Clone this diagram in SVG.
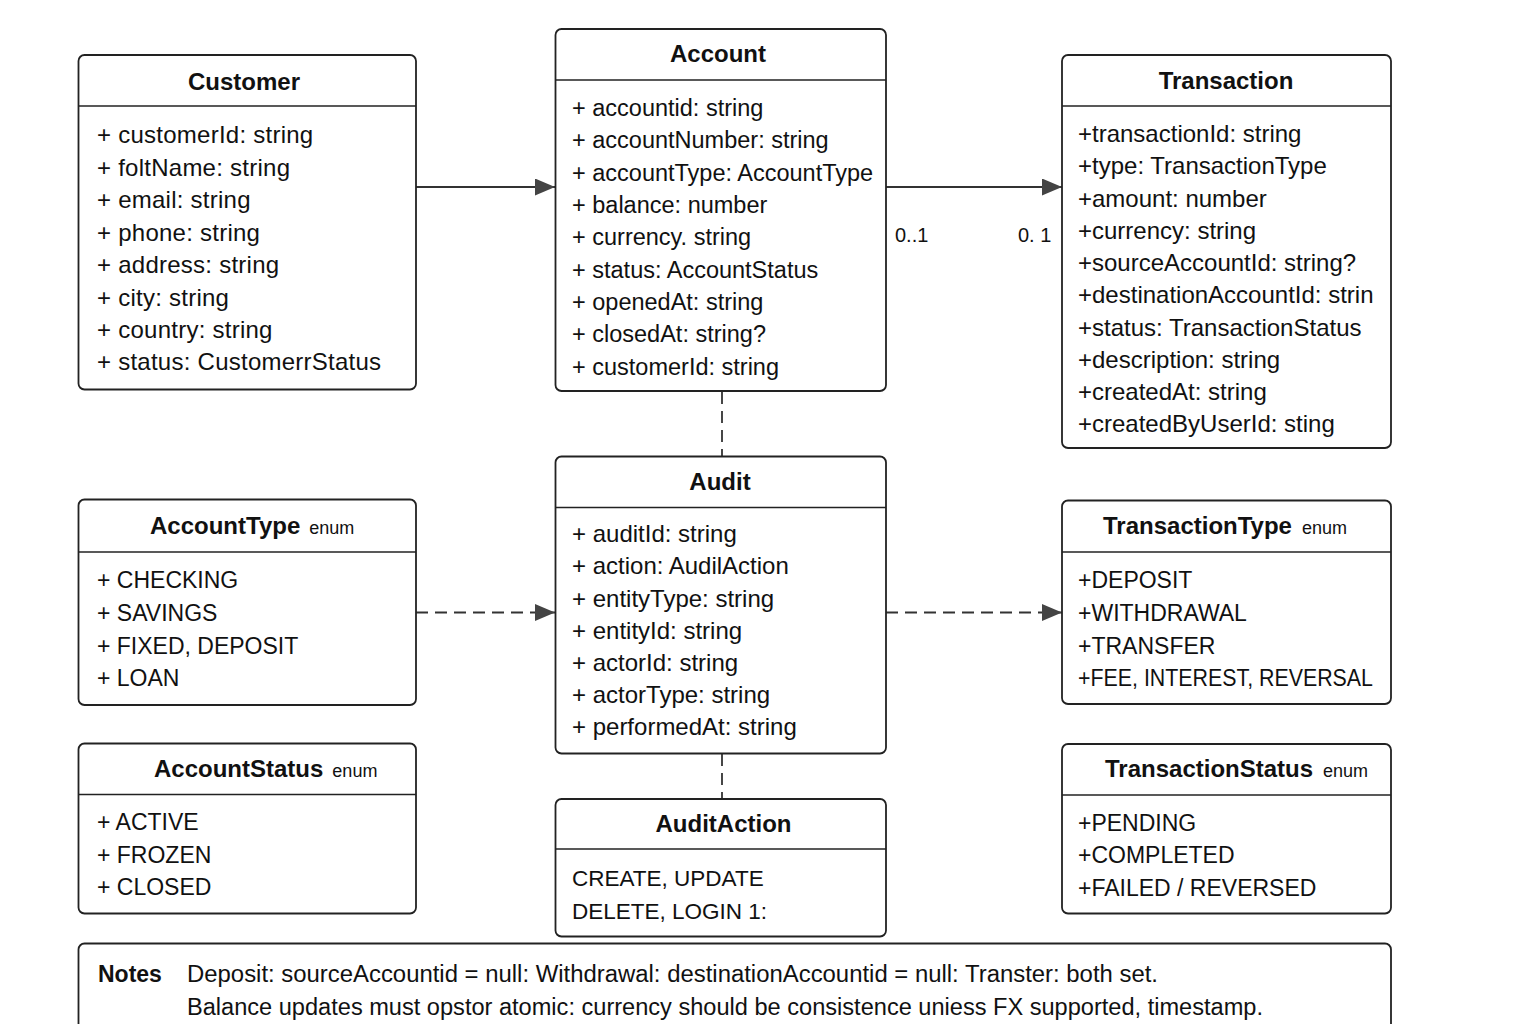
<svg xmlns="http://www.w3.org/2000/svg" width="1536" height="1024" viewBox="0 0 1536 1024">
<defs>
<style>
.box{fill:#fff;stroke:#222;stroke-width:1.8}
.div{stroke:#222;stroke-width:1.5}
.t{font-family:"Liberation Sans",Arial,sans-serif;font-weight:bold;font-size:24px;fill:#111}
.a{font-family:"Liberation Sans",Arial,sans-serif;font-size:24px;fill:#111}
.a23{font-size:23px}
.a235{font-size:23.5px}
.ls{letter-spacing:0.25px}
.e{font-family:"Liberation Sans",Arial,sans-serif;font-weight:normal;font-size:18px;fill:#111}
.m{font-family:"Liberation Sans",Arial,sans-serif;font-size:20px;fill:#111}
.conn{stroke:#333;stroke-width:1.8;fill:none}
.dash{stroke-dasharray:12 7}
</style>
<marker id="arr" markerUnits="userSpaceOnUse" markerWidth="21" markerHeight="18" refX="20" refY="8.5" orient="auto">
<path d="M0,0 L20,8.5 L0,17 z" fill="#444"/>
</marker>
</defs>
<rect width="1536" height="1024" fill="#fff"/>

<g id="connectors">
<line class="conn" x1="416" y1="187" x2="555" y2="187" marker-end="url(#arr)"/>
<line class="conn" x1="886" y1="187" x2="1062" y2="187" marker-end="url(#arr)"/>
<text class="m" x="895" y="242">0..1</text>
<text class="m" x="1018" y="242">0. 1</text>
<line class="conn dash" x1="722" y1="392" x2="722" y2="456"/>
<line class="conn dash" x1="416" y1="612.5" x2="555" y2="612.5" marker-end="url(#arr)"/>
<line class="conn dash" x1="886" y1="612.5" x2="1062" y2="612.5" marker-end="url(#arr)"/>
<line class="conn dash" x1="722" y1="754" x2="722" y2="799"/>
</g>

<g id="customer">
<rect class="box" x="78.5" y="55" width="337.5" height="334.5" rx="6"/>
<line class="div" x1="78.5" y1="106" x2="416" y2="106"/>
<text class="t" x="244" y="90" text-anchor="middle">Customer</text>
<text class="a ls" x="97" y="143">+ customerId: string</text>
<text class="a ls" x="97" y="175.5">+ foltName: string</text>
<text class="a ls" x="97" y="208">+ email: string</text>
<text class="a ls" x="97" y="240.5">+ phone: string</text>
<text class="a ls" x="97" y="273">+ address: string</text>
<text class="a ls" x="97" y="305.5">+ city: string</text>
<text class="a ls" x="97" y="338">+ country: string</text>
<text class="a ls" x="97" y="370">+ status: CustomerrStatus</text>
</g>

<g id="account">
<rect class="box" x="555.5" y="29" width="330.5" height="362" rx="6"/>
<line class="div" x1="555.5" y1="80" x2="886" y2="80"/>
<text class="t" x="718" y="62" text-anchor="middle">Account</text>
<text class="a a235" x="572" y="116">+ accountid: string</text>
<text class="a a235" x="572" y="148">+ accountNumber: string</text>
<text class="a a235" x="572" y="180.5">+ accountType: AccountType</text>
<text class="a a235" x="572" y="213">+ balance: number</text>
<text class="a a235" x="572" y="245">+ currency. string</text>
<text class="a a235" x="572" y="277.5">+ status: AccountStatus</text>
<text class="a a235" x="572" y="310">+ openedAt: string</text>
<text class="a a235" x="572" y="342">+ closedAt: string?</text>
<text class="a a235" x="572" y="375">+ customerId: string</text>
</g>

<g id="transaction">
<rect class="box" x="1062" y="55" width="329" height="393" rx="6"/>
<line class="div" x1="1062" y1="106" x2="1391" y2="106"/>
<text class="t" x="1226" y="88.5" text-anchor="middle">Transaction</text>
<text class="a" x="1078" y="142">+transactionId: string</text>
<text class="a" x="1078" y="174">+type: TransactionType</text>
<text class="a" x="1078" y="206.5">+amount: number</text>
<text class="a" x="1078" y="238.5">+currency: string</text>
<text class="a" x="1078" y="271">+sourceAccountId: string?</text>
<text class="a" x="1078" y="303">+destinationAccountId: strin</text>
<text class="a" x="1078" y="335.5">+status: TransactionStatus</text>
<text class="a" x="1078" y="367.5">+description: string</text>
<text class="a" x="1078" y="400">+createdAt: string</text>
<text class="a" x="1078" y="432">+createdByUserId: sting</text>
</g>

<g id="audit">
<rect class="box" x="555.5" y="456.5" width="330.5" height="297" rx="6"/>
<line class="div" x1="555.5" y1="507.5" x2="886" y2="507.5"/>
<text class="t" x="720" y="490" text-anchor="middle">Audit</text>
<text class="a" x="572" y="542">+ auditId: string</text>
<text class="a" x="572" y="574">+ action: AudilAction</text>
<text class="a" x="572" y="606.5">+ entityType: string</text>
<text class="a" x="572" y="638.5">+ entityId: string</text>
<text class="a" x="572" y="671">+ actorId: string</text>
<text class="a" x="572" y="703">+ actorType: string</text>
<text class="a" x="572" y="735">+ performedAt: string</text>
</g>

<g id="auditaction">
<rect class="box" x="555.5" y="799" width="330.5" height="137.5" rx="6"/>
<line class="div" x1="555.5" y1="849" x2="886" y2="849"/>
<text class="t" x="723.5" y="832" text-anchor="middle">AuditAction</text>
<text class="a" x="572" y="886" style="font-size:22.5px">CREATE, UPDATE</text>
<text class="a" x="572" y="918.5" style="font-size:22.5px">DELETE, LOGIN 1:</text>
</g>

<g id="accounttype">
<rect class="box" x="78.5" y="499.5" width="337.5" height="205.5" rx="6"/>
<line class="div" x1="78.5" y1="552" x2="416" y2="552"/>
<text class="t" x="150" y="533.5">AccountType<tspan class="e" dx="9">enum</tspan></text>
<text class="a a23" x="97" y="588">+ CHECKING</text>
<text class="a a23" x="97" y="621">+ SAVINGS</text>
<text class="a a23" x="97" y="653.5">+ FIXED, DEPOSIT</text>
<text class="a a23" x="97" y="686">+ LOAN</text>
</g>

<g id="accountstatus">
<rect class="box" x="78.5" y="743.5" width="337.5" height="170" rx="6"/>
<line class="div" x1="78.5" y1="794.5" x2="416" y2="794.5"/>
<text class="t" x="154" y="777">AccountStatus<tspan class="e" dx="9">enum</tspan></text>
<text class="a a23" x="97" y="829.5">+ ACTIVE</text>
<text class="a a23" x="97" y="862.5">+ FROZEN</text>
<text class="a a23" x="97" y="895">+ CLOSED</text>
</g>

<g id="transactiontype">
<rect class="box" x="1062" y="500.5" width="329" height="203.5" rx="6"/>
<line class="div" x1="1062" y1="552" x2="1391" y2="552"/>
<text class="t" x="1103" y="534">TransactionType<tspan class="e" dx="10">enum</tspan></text>
<text class="a a23" x="1078" y="588">+DEPOSIT</text>
<text class="a a23" x="1078" y="621">+WITHDRAWAL</text>
<text class="a a23" x="1078" y="653.5">+TRANSFER</text>
<text class="a a23" x="1078" y="686" textLength="295" lengthAdjust="spacingAndGlyphs">+FEE, INTEREST, REVERSAL</text>
</g>

<g id="transactionstatus">
<rect class="box" x="1062" y="744" width="329" height="169.5" rx="6"/>
<line class="div" x1="1062" y1="795" x2="1391" y2="795"/>
<text class="t" x="1105" y="777">TransactionStatus<tspan class="e" dx="10">enum</tspan></text>
<text class="a a23" x="1078" y="830.5">+PENDING</text>
<text class="a a23" x="1078" y="863">+COMPLETED</text>
<text class="a a23" x="1078" y="895.5">+FAILED / REVERSED</text>
</g>

<g id="notes">
<rect class="box" x="78.5" y="943.5" width="1312.5" height="110" rx="6"/>
<text class="t" x="98" y="982" style="font-size:23px">Notes</text>
<text class="a" x="187" y="982" style="font-size:23px" textLength="971" lengthAdjust="spacingAndGlyphs">Deposit: sourceAccountid = null:  Withdrawal: destinationAccountid = null: Transter: both set.</text>
<text class="a" x="187" y="1015" style="font-size:23px" textLength="1076" lengthAdjust="spacingAndGlyphs">Balance updates must opstor atomic: currency should be consistence uniess FX supported, timestamp.</text>
</g>
</svg>
